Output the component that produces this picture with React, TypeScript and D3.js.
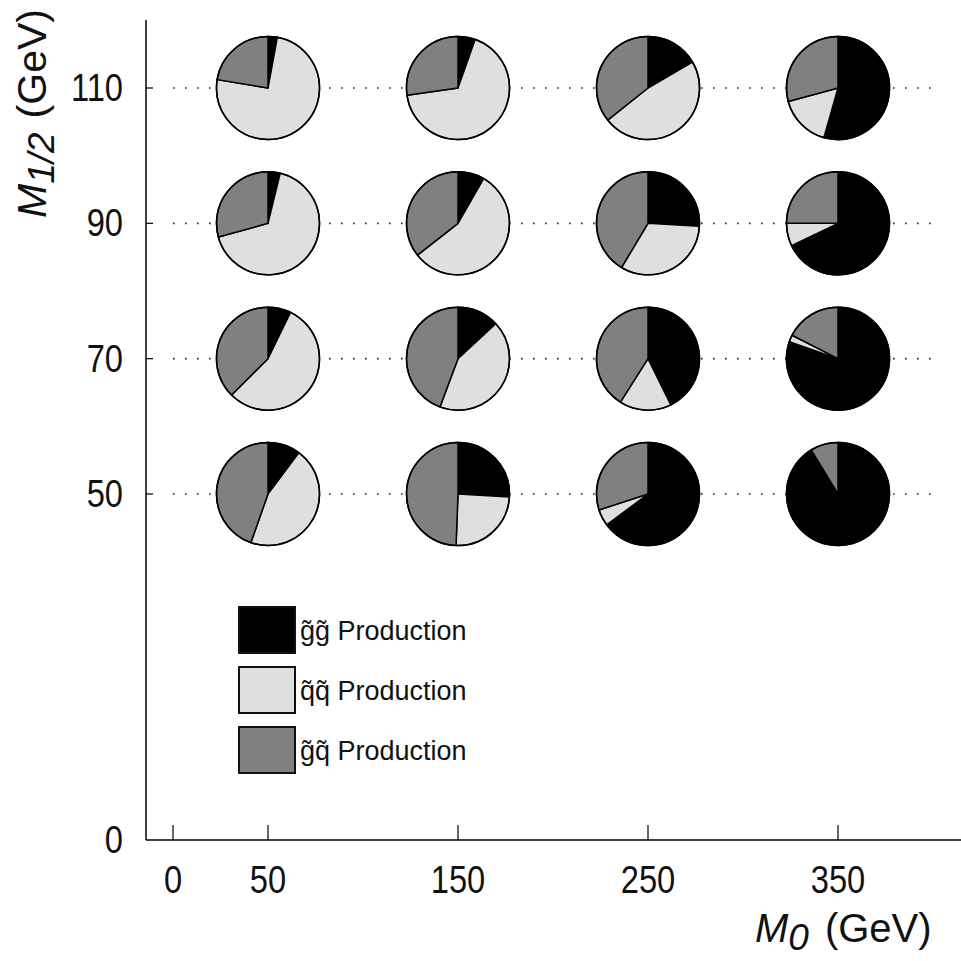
import React from 'react';
import * as d3 from 'd3';

// Grid of parameter points: columns are M0, rows are M1/2 (GeV)
const M0_VALUES = [50, 150, 250, 350];
const M12_VALUES = [110, 90, 70, 50];

const X_TICKS = [0, 50, 150, 250, 350];
const Y_TICKS = [0, 50, 70, 90, 110];

// Production fractions (%) per grid point, rows follow M12_VALUES, columns M0_VALUES
const GLUINO_GLUINO = [
  [2.9, 5.4, 16.6, 54.4],
  [3.8, 8.3, 25.9, 67.9],
  [7.2, 13.1, 42.7, 80.3],
  [10.2, 25.9, 64.8, 91.3],
];
const SQUARK_SQUARK = [
  [74.7, 67.4, 47.7, 16.4],
  [66.9, 56.1, 32.7, 7.1],
  [55.3, 42.6, 16.3, 2.2],
  [45.2, 24.7, 5.2, 0],
];
const GLUINO_SQUARK = [
  [22.4, 27.3, 35.7, 29.2],
  [29.3, 35.6, 41.4, 25.0],
  [37.5, 44.3, 41.0, 17.5],
  [44.6, 49.4, 30.0, 8.7],
];

const PROCESS_LABELS = ['g\u0303g\u0303 Production', 'q\u0303q\u0303 Production', 'g\u0303q\u0303 Production'];
const PROCESS_COLORS = ['#000000', '#dfdfdf', '#808080'];

const FONT = '"Liberation Sans", Arial, Helvetica, sans-serif';
const TICK_FONT = 38;
const TICK_SQUEEZE = 0.86;

export default function App() {
  const W = 961;
  const H = 961;

  const x = d3.scaleLinear().domain([0, 350]).range([173, 838]);
  const y = d3.scaleLinear().domain([0, 50, 110, 120]).range([840, 494, 88, 20]);

  const axisLeft = 146;
  const axisBottom = y(0);

  const pie = d3.pie<number>().sort(null).value((d) => d);
  const radius = 51.5;
  const arc = d3.arc<d3.PieArcDatum<number>>().innerRadius(0).outerRadius(radius);

  const gridLine = d3.line<number>().x((d) => x(d)).y(0);

  return (
    <svg
      width={W}
      height={H}
      viewBox={`0 0 ${W} ${H}`}
      style={{ position: 'absolute', left: 0, top: 0, background: '#fff' }}
      fontFamily={FONT}
    >
      <rect x={0} y={0} width={W} height={H} fill="#fff" />

      {/* dotted guide lines at each M1/2 row */}
      {M12_VALUES.map((m) => (
        <path
          key={`grid-${m}`}
          d={gridLine([0, 400]) || ''}
          transform={`translate(0,${y(m)})`}
          stroke="#222"
          strokeWidth={1.6}
          strokeDasharray="1.6 10.4"
          fill="none"
        />
      ))}

      {/* axes */}
      <line x1={axisLeft} y1={y(120)} x2={axisLeft} y2={axisBottom} stroke="#000" strokeWidth={1.5} />
      <line x1={axisLeft} y1={axisBottom} x2={W} y2={axisBottom} stroke="#000" strokeWidth={1.5} />

      {X_TICKS.map((t) => (
        <g key={`xt-${t}`}>
          <line x1={x(t)} x2={x(t)} y1={axisBottom} y2={axisBottom - 15} stroke="#000" strokeWidth={1.2} />
          <text
            transform={`translate(${x(t)},${axisBottom + 53}) scale(${TICK_SQUEEZE},1)`}
            fontSize={TICK_FONT}
            textAnchor="middle"
            fill="#111"
          >
            {t}
          </text>
        </g>
      ))}

      {Y_TICKS.map((t) => (
        <g key={`yt-${t}`}>
          {t !== 0 && (
            <line x1={axisLeft} x2={axisLeft + 7} y1={y(t)} y2={y(t)} stroke="#000" strokeWidth={1.2} />
          )}
          <text
            transform={`translate(123,${y(t) + 13}) scale(${TICK_SQUEEZE},1)`}
            fontSize={TICK_FONT}
            textAnchor="end"
            fill="#111"
          >
            {t}
          </text>
        </g>
      ))}

      {/* axis titles */}
      <text x={755} y={942} fontSize={40} fill="#111">
        <tspan fontStyle="italic">M</tspan>
        <tspan fontStyle="italic" fontSize={37} dy={8}>0</tspan>
        <tspan dy={-8} dx={16}>(GeV)</tspan>
      </text>
      <text transform="translate(46,218) rotate(-90)" fontSize={41} fill="#111">
        <tspan fontStyle="italic">M</tspan>
        <tspan fontStyle="italic" fontSize={37} dy={8}>1/2</tspan>
        <tspan dy={-8} dx={14}>(GeV)</tspan>
      </text>

      {/* pie at each grid point */}
      {M12_VALUES.map((m12, r) =>
        M0_VALUES.map((m0, c) => {
          const values = [GLUINO_GLUINO[r][c], SQUARK_SQUARK[r][c], GLUINO_SQUARK[r][c]];
          const arcs = pie(values);
          return (
            <g key={`pie-${r}-${c}`} transform={`translate(${x(m0)},${y(m12)})`}>
              {arcs.map((a, i) =>
                a.endAngle - a.startAngle > 0 ? (
                  <path
                    key={i}
                    d={arc(a) || ''}
                    fill={PROCESS_COLORS[i]}
                    stroke="#000"
                    strokeWidth={1.5}
                    strokeLinejoin="round"
                  />
                ) : null
              )}
              <circle r={radius} fill="none" stroke="#000" strokeWidth={1.5} />
            </g>
          );
        })
      )}

      {/* legend */}
      {PROCESS_LABELS.map((label, i) => {
        const top = 607 + i * 60;
        return (
          <g key={`leg-${i}`}>
            <rect x={239} y={top} width={56} height={46} fill={PROCESS_COLORS[i]} stroke="#111" strokeWidth={2} />
            <text x={300} y={top + 33} fontSize={27} fill="#111">
              {label}
            </text>
          </g>
        );
      })}
    </svg>
  );
}
